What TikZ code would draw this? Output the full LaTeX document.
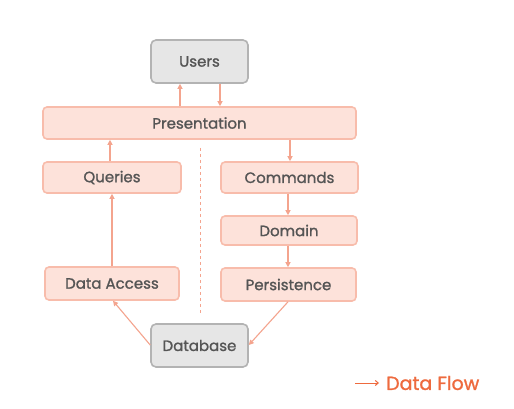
\documentclass[tikz,border=0pt]{standalone}
\usepackage{fontspec}
\setmainfont{Poppins}[FakeBold=1.2]
\usetikzlibrary{arrows.meta}
\definecolor{boxfill}{HTML}{FDE2DA}
\definecolor{boxdraw}{HTML}{F8BCAB}
\definecolor{grayfill}{HTML}{E6E6E6}
\definecolor{graydraw}{HTML}{B3B3B3}
\definecolor{flow}{HTML}{F4A48E}
\definecolor{txt}{HTML}{555555}
\definecolor{legend}{HTML}{EE6A3E}
\begin{document}
\begin{tikzpicture}[x=1pt,y=-1pt,
  layer/.style={draw=boxdraw,fill=boxfill,line width=1.6pt,rounded corners=4pt,text=txt,font=\fontsize{15}{17}\selectfont,inner sep=0pt},
  ext/.style={draw=graydraw,fill=grayfill,line width=1.6pt,rounded corners=5pt,text=txt,font=\fontsize{15}{17}\selectfont,inner sep=0pt},
  flowline/.style={draw=flow,line width=1.1pt,-{Triangle[length=5pt,width=5pt]}}]
\useasboundingbox (0,0) rectangle (514,409);
\fill[white] (0,0) rectangle (514,409);
\node[ext,minimum width=97pt,minimum height=43pt] (users) at (199.5,61.5) {Users};
\node[layer,minimum width=313pt,minimum height=32pt] (pres) at (199.5,123) {Presentation};
\node[layer,minimum width=138pt,minimum height=31pt] (queries) at (112,177.5) {Queries};
\node[layer,minimum width=137pt,minimum height=31pt] (commands) at (289.5,177.5) {Commands};
\node[layer,minimum width=136pt,minimum height=29pt] (domain) at (289,230.5) {Domain};
\node[layer,minimum width=134pt,minimum height=33pt] (dataacc) at (112,283.5) {Data Access};
\node[layer,minimum width=135pt,minimum height=33pt] (persist) at (288.5,284.5) {Persistence};
\node[ext,minimum width=97pt,minimum height=43pt] (db) at (199.5,345.5) {Database};
\coordinate (dtop) at (200,148);
\coordinate (dbot) at (200,315);
\draw[flow,line width=1pt,dash pattern=on 3pt off 3pt] (dtop) -- (dbot);
\draw[flowline] (pres.north -| 180,0) -- (users.south -| 180,0);
\draw[flowline] (users.south -| 220,0) -- (pres.north -| 220,0);
\draw[flowline] (pres.south -| 290,0) -- (commands.north -| 290,0);
\draw[flowline] (queries.north -| 110,0) -- (pres.south -| 110,0);
\draw[flowline] (dataacc.north -| 112,0) -- (queries.south -| 112,0);
\draw[flowline] (commands.south -| 288,0) -- (domain.north -| 288,0);
\draw[flowline] (domain.south -| 288,0) -- (persist.north -| 288,0);
\draw[flowline] (db.west |- 0,345) -- (dataacc.south -| 113,0);
\draw[flowline] (persist.south -| 288,0) -- (db.east |- 0,345);
\coordinate (la) at (355,383);
\coordinate (lb) at (379,383);
\draw[legend,line width=1pt,-{Straight Barb[length=3pt,width=5pt]}] (la) -- (lb);
\node[anchor=west,text=legend,font=\fontsize{19}{22}\selectfont,inner sep=0pt] (lt) at (386,383) {Data Flow};
\end{tikzpicture}
\end{document}
